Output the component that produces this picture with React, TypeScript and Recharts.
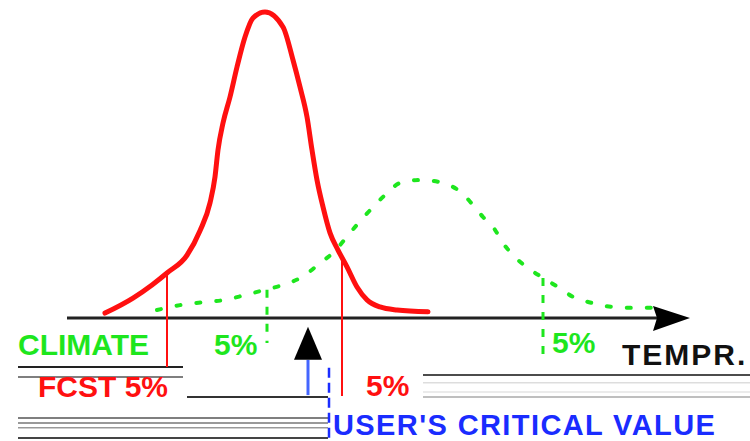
import React from "react"
import { LineChart, Line, XAxis, YAxis, ReferenceLine, ReferenceDot } from "recharts"

// forecast density (narrow, red)
const fcstX = [10.5, 13.3, 15.2, 16.7, 18.7, 20.0, 21.0, 21.5, 21.8, 22.3, 23.0, 23.7, 24.5, 25.3, 26.5, 28.3, 29.3, 30.0, 30.7, 31.2, 31.7, 32.3, 33.0, 33.8, 34.7, 35.7, 36.7, 38.0, 39.7, 42.8]
const fcstY = [1.6, 6.5, 10.8, 14.7, 20.5, 28.5, 37.6, 46.1, 54.9, 63.7, 72.2, 82.0, 91.8, 98.0, 100, 95.1, 84.3, 75.5, 65.7, 54.9, 45.1, 36.3, 27.8, 22.2, 16.7, 10.1, 5.9, 3.6, 2.6, 2.0]

// climate density (wide, green dotted)
const climX = [15.7, 18.0, 20.5, 22.5, 24.5, 26.5, 28.3, 30.2, 32.0, 33.4, 35.0, 36.3, 37.5, 38.7, 40.0, 42.2, 44.3, 46.2, 47.3, 48.3, 49.5, 50.3, 51.5, 52.8, 54.3, 55.8, 57.3, 59.2, 61.3, 63.3, 65.3]
const climY = [2.6, 4.2, 5.2, 5.9, 7.5, 9.2, 10.8, 13.4, 17.9, 21.6, 27.8, 32.7, 36.9, 40.8, 44.1, 45.1, 44.1, 40.8, 36.9, 33.0, 28.8, 24.5, 19.9, 16.3, 13.1, 10.1, 6.9, 4.9, 3.6, 3.3, 3.3]

// 5% quantiles
const fcstLow = 16.7
const fcstHigh = 34.2
const climLow = 26.7
const climHigh = 54.3
const criticalValue = 30.8

const labels = ["CLIMATE", "5%", "5%", "TEMPR.", "FCST 5%", "5%", "USER'S CRITICAL VALUE"]

const fcstData = fcstX.map((x, i) => ({ x, y: fcstY[i] }))
const climData = climX.map((x, i) => ({ x, y: climY[i] }))

const RED = "#ff1010"
const GREEN = "#1ee61e"
const BLUE = "#1a2cff"
const FONT = "'Liberation Sans', Arial, sans-serif"

// label placement (data units) and colours
const labelStyle = [
  { x: 1.8, y: -12.1, color: GREEN, spacing: 0, size: 30 },
  { x: 21.4, y: -12.1, color: GREEN, spacing: 0, size: 30 },
  { x: 55.2, y: -11.4, color: GREEN, spacing: 0, size: 30 },
  { x: 62.2, y: -15.4, color: "#111", spacing: 2, size: 30 },
  { x: 3.8, y: -25.8, color: RED, spacing: 0, size: 30 },
  { x: 36.6, y: -25.5, color: RED, spacing: 0, size: 30 },
  { x: 33.3, y: -38.1, color: BLUE, spacing: 1.4, size: 29 },
]

// scan lines in the lower part of the picture
const scanRules = [
  { x1: 1.8, x2: 18.3, y: -16.0, c: "#222", w: 2 },
  { x1: 1.8, x2: 18.3, y: -19.3, c: "#555", w: 1.5 },
  { x1: 18.7, x2: 32.8, y: -25.8, c: "#333", w: 2 },
  { x1: 1.8, x2: 32.8, y: -32.7, c: "#555", w: 1.5 },
  { x1: 1.8, x2: 32.8, y: -34.3, c: "#777", w: 1.5 },
  { x1: 1.8, x2: 32.8, y: -35.9, c: "#999", w: 1.5 },
  { x1: 1.8, x2: 32.8, y: -39.2, c: "#444", w: 2 },
  { x1: 42.3, x2: 75, y: -18.6, c: "#111", w: 1.5 },
  { x1: 42.3, x2: 75, y: -21.2, c: "#ddd", w: 1.5 },
  { x1: 42.3, x2: 75, y: -24.2, c: "#e5e5e5", w: 1.5 },
  { x1: 42.3, x2: 75, y: -25.8, c: "#aaa", w: 1.5 },
]

export default function App() {
  return (
    <div style={{ position: "absolute", left: 0, top: 0, width: 750, height: 441, background: "#fff" }}>
      <LineChart width={750} height={441} margin={{ top: 0, right: 0, bottom: 0, left: 0 }}>
        <XAxis type="number" dataKey="x" domain={[0, 75]} hide allowDataOverflow />
        <YAxis type="number" domain={[-40.2, 103.9]} hide allowDataOverflow />

        {scanRules.map((r, i) => (
          <ReferenceLine key={"s" + i} segment={[{ x: r.x1, y: r.y }, { x: r.x2, y: r.y }]} stroke={r.c} strokeWidth={r.w} ifOverflow="visible" />
        ))}

        {/* axis with arrow */}
        <ReferenceLine segment={[{ x: 6.7, y: 0 }, { x: 66, y: 0 }]} stroke="#222" strokeWidth={3} ifOverflow="visible" />
        <ReferenceDot
          x={69}
          y={0}
          ifOverflow="visible"
          shape={(p: any) => (
            <polygon points={`${p.cx},${p.cy} ${p.cx - 37},${p.cy - 12} ${p.cx - 33},${p.cy} ${p.cx - 37},${p.cy + 13}`} fill="#000" />
          )}
        />

        {/* quantile markers */}
        <ReferenceLine segment={[{ x: fcstLow, y: 14.7 }, { x: fcstLow, y: -16 }]} stroke={RED} strokeWidth={2} ifOverflow="visible" />
        <ReferenceLine segment={[{ x: fcstHigh, y: 19.5 }, { x: fcstHigh, y: -25.5 }]} stroke={RED} strokeWidth={2} ifOverflow="visible" />
        <ReferenceLine segment={[{ x: climLow, y: 9.2 }, { x: climLow, y: -8.2 }]} stroke={GREEN} strokeWidth={3} strokeDasharray="8 9" ifOverflow="visible" />
        <ReferenceLine segment={[{ x: climHigh, y: 13.1 }, { x: climHigh, y: -12.1 }]} stroke={GREEN} strokeWidth={3} strokeDasharray="8 9" ifOverflow="visible" />

        {/* critical value arrow */}
        <ReferenceLine segment={[{ x: criticalValue, y: -13.7 }, { x: criticalValue, y: -25.2 }]} stroke="#4466ff" strokeWidth={3} ifOverflow="visible" />
        <ReferenceLine segment={[{ x: 32.9, y: -16.3 }, { x: 32.9, y: -40.2 }]} stroke={BLUE} strokeWidth={2.5} strokeDasharray="10 5" ifOverflow="visible" />
        <ReferenceDot
          x={criticalValue}
          y={-2.9}
          ifOverflow="visible"
          shape={(p: any) => (
            <polygon points={`${p.cx},${p.cy} ${p.cx + 14},${p.cy + 33} ${p.cx - 14},${p.cy + 33}`} fill="#000" />
          )}
        />

        <Line data={climData} dataKey="y" type="monotone" stroke={GREEN} strokeWidth={4} strokeDasharray="4 16" strokeLinecap="round" dot={false} activeDot={false} isAnimationActive={false} />
        <Line data={fcstData} dataKey="y" type="monotone" stroke={RED} strokeWidth={5} strokeLinecap="round" dot={false} activeDot={false} isAnimationActive={false} />

        {labels.map((t, i) => (
          <ReferenceDot
            key={"l" + i}
            x={labelStyle[i].x}
            y={labelStyle[i].y}
            ifOverflow="visible"
            shape={(p: any) => (
              <text x={p.cx} y={p.cy} fill={labelStyle[i].color} fontFamily={FONT} fontWeight="bold" fontSize={labelStyle[i].size} letterSpacing={labelStyle[i].spacing}>
                {t}
              </text>
            )}
          />
        ))}
      </LineChart>
    </div>
  )
}
